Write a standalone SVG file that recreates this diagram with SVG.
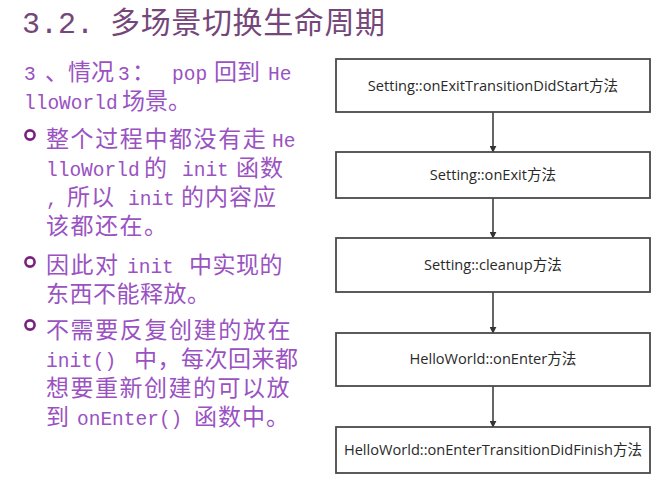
<svg xmlns="http://www.w3.org/2000/svg" width="654" height="484" viewBox="0 0 654 484">
<style>
.title{font-family:"Liberation Mono","Noto Sans CJK SC",monospace;font-size:30px;fill:#74467a;}
.body{font-family:"Liberation Mono","Noto Sans CJK SC",monospace;font-size:23px;fill:#9a52c2;}
.lat{font-family:"Liberation Mono",monospace;font-size:19.5px;}
.bul{fill:none;stroke:#7a2080;stroke-width:2.6;}
.box{fill:#ffffff;stroke:#4a4a4a;stroke-width:1.8;}
.lbl{font-family:"Open Sans","Liberation Sans","Noto Sans CJK SC",sans-serif;font-size:14.6px;fill:#2a2a2a;text-anchor:middle;}
.conn{stroke:#333333;stroke-width:1.5;fill:none;marker-end:url(#arr);}
</style>
<defs>
<marker id="arr" viewBox="0 0 10 10" refX="9" refY="5" markerWidth="7" markerHeight="7" orient="auto" markerUnits="userSpaceOnUse"><path d="M0,0 L10,5 L0,10 z" fill="#333333"/></marker>
</defs>
<rect width="654" height="484" fill="#ffffff"/>
<g id="title">
<text class="title" x="22" y="33">3.2.</text>
<text class="title" x="110" y="33" textLength="275" lengthAdjust="spacing">多场景切换生命周期</text>
</g>
<g id="text-left">
<text class="body" y="80"><tspan class="lat" x="24">3</tspan><tspan x="45">、情况</tspan><tspan class="lat" x="118">3</tspan><tspan x="132">：</tspan><tspan class="lat" x="172">pop</tspan><tspan x="214">回到</tspan><tspan class="lat" x="268">He</tspan></text>
<text class="body" y="109"><tspan class="lat" x="24">lloWorld</tspan><tspan x="122">场景。</tspan></text>
<circle class="bul" cx="30" cy="135" r="4.6"/>
<text class="body" y="147"><tspan x="46" letter-spacing="1.6">整个过程中都没有走</tspan><tspan class="lat" x="272">He</tspan></text>
<text class="body" y="176"><tspan class="lat" x="46">lloWorld</tspan><tspan x="144">的</tspan><tspan class="lat" x="182">init</tspan><tspan x="236" letter-spacing="1">函数</tspan></text>
<text class="body" y="205"><tspan class="lat" x="46">,</tspan><tspan x="67" letter-spacing="1">所以</tspan><tspan class="lat" x="128">init</tspan><tspan x="181" letter-spacing="1">的内容应</tspan></text>
<text class="body" x="46" y="234" letter-spacing="1.5">该都还在。</text>
<circle class="bul" cx="30" cy="262" r="4.6"/>
<text class="body" y="273"><tspan x="46" letter-spacing="1.5">因此对</tspan><tspan class="lat" x="127">init</tspan><tspan x="189" letter-spacing="0.5">中实现的</tspan></text>
<text class="body" x="46" y="302" letter-spacing="0.5">东西不能释放。</text>
<circle class="bul" cx="30" cy="325" r="4.6"/>
<text class="body" x="46" y="338" letter-spacing="1.6">不需要反复创建的放在</text>
<text class="body" y="367"><tspan class="lat" x="46">init()</tspan><tspan x="134" letter-spacing="0.5">中，每次回来都</tspan></text>
<text class="body" x="46" y="396" letter-spacing="1.5">想要重新创建的可以放</text>
<text class="body" y="425"><tspan x="46">到</tspan><tspan class="lat" x="77">onEnter()</tspan><tspan x="194" letter-spacing="1">函数中。</tspan></text>
</g>
<g id="connectors">
<line class="conn" x1="493" y1="112" x2="493" y2="152"/>
<line class="conn" x1="493" y1="198" x2="493" y2="238"/>
<line class="conn" x1="493" y1="292" x2="493" y2="333"/>
<line class="conn" x1="493" y1="386" x2="493" y2="427"/>
</g>
<g id="n1"><rect class="box" x="336" y="59" width="314" height="53"/><text class="lbl" x="493" y="91">Setting::onExitTransitionDidStart方法</text></g>
<g id="n2"><rect class="box" x="336" y="152" width="314" height="46"/><text class="lbl" x="493" y="180">Setting::onExit方法</text></g>
<g id="n3"><rect class="box" x="336" y="238" width="314" height="54"/><text class="lbl" x="493" y="270">Setting::cleanup方法</text></g>
<g id="n4"><rect class="box" x="336" y="333" width="314" height="53"/><text class="lbl" x="493" y="364">HelloWorld::onEnter方法</text></g>
<g id="n5"><rect class="box" x="336" y="427" width="314" height="46"/><text class="lbl" x="493" y="455">HelloWorld::onEnterTransitionDidFinish方法</text></g>
</svg>
